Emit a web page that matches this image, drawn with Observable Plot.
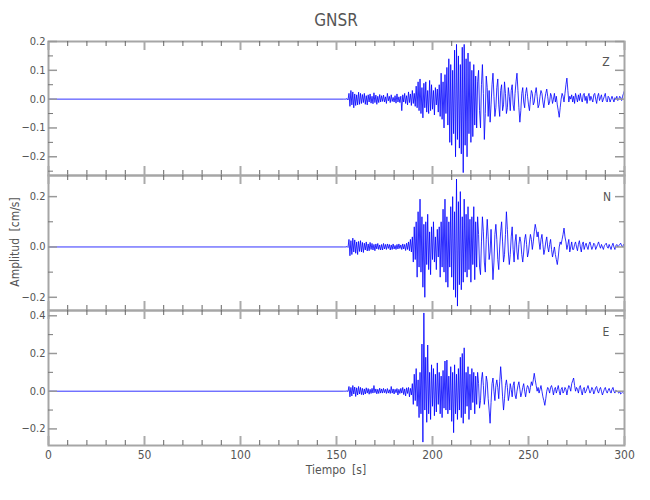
<!DOCTYPE html>
<html>
<head>
<meta charset="utf-8">
<script src="https://cdn.jsdelivr.net/npm/d3@7"></script>
<script src="https://cdn.jsdelivr.net/npm/@observablehq/plot@0.6"></script>
<style>
  body { margin: 0; background: #fff; }
  #chart { position: relative; width: 650px; height: 500px; background: #fff;
           font-family: "Liberation Sans Narrow", "DejaVu Sans Condensed", sans-serif; color: #555; }
  #chart svg { position: absolute; left: 0; }
  .lbl { position: absolute; white-space: nowrap; line-height: 1; }
</style>
</head>
<body>
<div id="chart"></div>
<script>
// ---- data (sampled every 0.5 s from 153.5 s; quiet trace before) ----
const title = "GNSR";
const channels = ["Z", "N", "E"];
const t0 = 153.5, dt = 0.5;
const xMajor = [0, 50, 100, 150, 200, 250, 300];
const xMinor = [10,20,30,40,60,70,80,90,110,120,130,140,160,170,180,190,210,220,230,240,260,270,280,290];

const zAmp = [
  0,0,0,0,0.002,-0.003,0.02,-0.025,0.03,-0.02,0.025,-0.03,0.018,-0.022,0.015,-0.02,0.024,-0.018,0.02,-0.015,
  0.016,-0.012,0.02,-0.018,0.012,-0.02,0.015,-0.01,0.018,-0.014,0.01,-0.016,0.022,-0.012,0.014,-0.018,0.01,-0.012,0.016,-0.01,
  0.012,-0.008,0.014,-0.01,0.008,-0.015,0.02,-0.006,0.01,-0.012,0.015,-0.008,0.006,-0.01,0.012,-0.014,0.018,-0.01,0.008,-0.012,
  0.01,-0.04,0.015,-0.01,0.02,-0.015,0.012,-0.02,0.025,-0.012,0.018,-0.022,0.03,-0.015,0.02,-0.025,0.045,-0.03,0.06,-0.04,
  0.07,-0.05,0.04,-0.065,0.055,-0.03,0.06,-0.045,0.03,-0.05,0.065,-0.04,0.05,-0.035,0.03,-0.055,0.04,-0.02,0.035,-0.045,
  0.05,-0.06,0.09,-0.07,0.06,-0.1,0.085,-0.05,0.11,-0.09,0.14,-0.15,0.12,-0.16,0.1,-0.12,0.17,-0.2,0.19,-0.14,
  0.15,-0.17,0.12,-0.19,0.18,-0.255,0.19,-0.16,0.14,-0.2,0.16,-0.12,0.13,-0.15,0.1,-0.13,0.12,-0.09,0.08,-0.1,
  0.06,0.1,-0.04,-0.1,0.05,0.12,0.02,-0.14,-0.05,0.08,0.04,-0.06,0.03,-0.08,-0.02,0.05,0.09,0.01,-0.06,-0.03,
  0.04,0.07,-0.02,-0.06,0.03,0.05,-0.04,-0.02,0.06,0.02,-0.05,-0.03,0.04,0.01,-0.04,0.03,0.05,-0.02,-0.04,0.02,
  0.06,0.09,0.03,-0.03,-0.08,-0.04,0.02,0.04,-0.01,-0.03,0.02,0.04,0.01,-0.02,-0.04,0,0.03,0.02,-0.02,-0.01,
  0.02,0.04,0.01,-0.03,-0.02,0.01,0.03,0.02,-0.01,-0.03,0,0.02,0.035,0.01,-0.02,-0.01,0.02,0.01,-0.015,0,
  0.02,-0.01,0.01,-0.02,-0.04,-0.063,-0.03,0,0.02,0.01,-0.01,0.02,0.05,0.073,0.03,-0.01,0.01,0,0.015,-0.01,
  0.01,-0.015,0.02,0.005,-0.01,0.015,-0.005,0.02,0,-0.01,0.015,0.02,-0.005,0.01,-0.015,0.01,0.02,-0.005,0.01,0,
  -0.01,0.015,0.02,0,-0.015,0.01,0.02,-0.005,0.005,0.015,-0.01,0,0.01,0.02,-0.005,-0.01,0.01,0.005,-0.01,0,
  0.01,0,-0.01,0.005,0,0.01,-0.005,0,0.01,0.005,-0.005,0.01,0.02,0.03
];

const nAmp = [
  0,0,0,0,0.002,-0.002,0.03,-0.035,0.025,-0.03,0.035,-0.02,0.028,-0.025,0.02,-0.03,0.022,-0.018,0.025,-0.02,
  0.018,-0.022,0.015,-0.012,0.02,-0.016,0.012,-0.015,0.018,-0.01,0.014,-0.012,0.01,-0.015,0.012,-0.008,0.014,-0.01,0.008,-0.012,
  0.01,-0.012,0.014,-0.008,0.01,-0.01,0.012,-0.006,0.01,-0.012,0.008,-0.01,0.012,-0.008,0.006,-0.01,0.01,-0.008,0.012,-0.006,
  0.008,-0.01,0.012,-0.008,0.01,-0.014,0.015,-0.01,0.02,-0.015,0.03,-0.02,0.04,-0.06,0.08,-0.05,0.1,-0.12,0.14,-0.08,
  0.19,-0.1,0.12,-0.16,0.09,-0.2,0.1,-0.07,0.13,-0.09,0.06,-0.11,0.08,-0.05,0.1,-0.06,0.04,-0.09,0.07,-0.04,
  0.08,-0.12,0.1,-0.08,0.15,-0.1,0.19,-0.14,0.12,-0.16,0.1,-0.08,0.16,-0.12,0.2,-0.17,0.14,-0.2,0.27,-0.235,
  0.18,-0.15,0.22,-0.17,0.12,-0.14,0.19,-0.1,0.13,-0.12,0.16,-0.09,0.11,-0.14,0.12,-0.07,0.16,-0.13,0.1,-0.08,
  0.12,0.05,-0.08,-0.11,0.02,0.12,0.06,-0.06,-0.1,0.03,0.11,0.04,-0.05,-0.02,0.07,-0.04,-0.13,-0.06,0.05,0.09,
  0.03,-0.05,-0.09,0,0.06,0.1,0.02,-0.06,-0.03,0.05,0.14,0.07,-0.02,-0.07,-0.03,0.04,0.08,-0.01,-0.06,0.02,
  0.05,-0.02,-0.05,0.01,0.04,0.02,-0.03,-0.06,-0.02,0.03,0.05,0.01,-0.04,-0.02,0.02,0.05,0.03,-0.01,0.02,0.06,
  0.09,0.07,0.04,0.06,0.02,-0.01,0.03,0.05,0.01,-0.03,-0.01,0.02,0.04,0,-0.02,0.01,0.03,-0.01,-0.04,-0.02,
  0,-0.03,-0.05,-0.07,-0.04,0,0.02,0.01,0.03,0.05,0.075,0.04,0.02,-0.01,0.01,0.03,-0.02,0,0.02,-0.01,
  -0.01,0.01,0.02,0,-0.015,0.01,0.025,0,-0.02,0.01,0.02,-0.01,0.005,0.015,0,-0.01,0.01,0.02,0.005,-0.01,
  0,0.015,0.01,-0.01,0,0.01,0.02,0.005,-0.005,0.01,0,-0.01,0.005,0.01,0.015,0,-0.005,0.01,0,-0.01,
  0.005,0.015,0,-0.01,0.005,0.01,0,0.005,0.01,0.015,0.005,0,0.01,0.005
];

const eAmp = [
  0,0,0,0,0.002,-0.002,0.025,-0.03,0.02,-0.025,0.03,-0.015,0.022,-0.028,0.018,-0.02,0.025,-0.015,0.02,-0.018,
  0.015,-0.02,0.012,-0.015,0.018,-0.01,0.014,-0.016,0.01,-0.012,0.015,-0.01,0.03,-0.008,0.012,-0.014,0.01,-0.012,0.016,-0.01,
  0.012,-0.01,0.015,-0.008,0.01,-0.012,0.014,-0.01,0.008,-0.012,0.025,-0.01,0.012,-0.015,0.01,-0.008,0.014,-0.02,0.01,-0.012,
  0.015,-0.01,0.02,-0.018,0.012,-0.025,0.018,-0.012,0.02,-0.03,0.015,-0.02,0.04,-0.07,0.09,-0.05,0.12,-0.08,0.06,-0.14,
  0.1,-0.12,0.25,-0.27,0.415,-0.1,0.18,-0.165,0.245,-0.12,0.1,-0.15,0.14,-0.08,0.12,-0.13,0.09,-0.11,0.15,-0.07,
  0.1,-0.12,0.08,-0.14,0.11,-0.09,0.16,-0.1,0.165,-0.12,0.08,-0.1,0.13,-0.16,0.1,-0.22,0.14,-0.12,0.09,-0.15,
  0.12,-0.1,0.18,-0.14,0.2,-0.17,0.23,-0.12,0.1,-0.08,0.13,-0.15,0.09,-0.1,0.12,-0.06,0.1,-0.12,0.08,-0.07,
  0.1,0.04,-0.09,-0.05,0.06,0.1,0.03,-0.07,-0.02,0.08,0.05,-0.04,-0.1,-0.17,-0.06,0.04,0.07,0,-0.05,0.03,
  0.06,0.02,-0.04,0.05,0.13,0.06,-0.03,-0.1,-0.04,0.03,0.06,0.02,-0.05,-0.02,0.04,0.01,-0.03,0.03,0.05,-0.02,
  -0.04,0,0.03,0.05,0.01,-0.03,-0.01,0.02,0.04,0,-0.03,0.01,0.03,0.02,-0.01,0.02,0.05,0.03,0.06,0.095,
  0.06,0.03,0,0.02,-0.01,0.01,0.03,0,-0.03,-0.05,-0.075,-0.04,0,0.02,0.01,-0.01,0.02,0.03,0.01,-0.02,
  0.01,0.02,-0.01,0.01,0.03,0,-0.02,0.01,0.02,-0.01,0,0.02,0.01,-0.02,0.01,0.03,0.02,0,0.04,0.055,
  0.07,0.03,0,0.02,0.01,-0.01,0.02,0.03,0,-0.02,0.01,0.02,-0.01,0,0.015,0.03,0.01,-0.01,0,0.02,
  0.01,-0.015,0,0.02,0.025,0,-0.01,0.01,0.02,0,-0.02,-0.005,0.01,0.02,0,-0.01,0.005,0.015,0,-0.01,
  0.01,0.02,0,-0.01,0.005,0,-0.005,-0.01,0,-0.015,-0.01,-0.005,-0.01,-0.005
];

const zDomain = [-0.265, 0.2],  zMajor = [-0.2, -0.1, 0, 0.1, 0.2], zMinor = [-0.25, -0.15, -0.05, 0.05, 0.15];
const nDomain = [-0.2525, 0.284], nMajor = [-0.2, 0, 0.2], nMinor = [-0.1, 0.1];
const eDomain = [-0.288, 0.428], eMajor = [-0.2, 0, 0.2, 0.4], eMinor = [-0.1, 0.1, 0.3];

// ---- drawing ----
const W = 650, ML = 48, MR = 26, PW = W - ML - MR;
const chart = document.getElementById("chart");

function series(amp) {
  return [{t: 0, v: 0}, ...amp.map((v, i) => ({t: t0 + i * dt, v}))];
}

function panel({amp, domain, major, minor, top, ph, mt, mb, xAxis}) {
  const data = series(amp);
  const marks = [
    Plot.line(data, {x: "t", y: "v", stroke: "#0000ff", strokeWidth: 0.9, strokeOpacity: 0.9}),
    Plot.frame({stroke: "#a6a6a6", strokeWidth: 2}),
    Plot.tickX(xMinor, {x: d => d, stroke: "#666", strokeWidth: 1, insetBottom: ph - 5}),
    Plot.tickX(xMinor, {x: d => d, stroke: "#666", strokeWidth: 1, insetTop: ph - 5}),
    Plot.tickX(xMajor, {x: d => d, stroke: "#aaa", strokeWidth: 2, insetBottom: ph - 9}),
    Plot.tickX(xMajor, {x: d => d, stroke: "#aaa", strokeWidth: 2, insetTop: ph - 9}),
    Plot.tickY(major, {y: d => d, stroke: "#999", strokeWidth: 1.5, insetRight: PW - 9}),
    Plot.tickY(major, {y: d => d, stroke: "#999", strokeWidth: 1.5, insetLeft: PW - 9}),
    Plot.tickY(minor, {y: d => d, stroke: "#777", strokeWidth: 1, insetRight: PW - 5}),
    Plot.tickY(minor, {y: d => d, stroke: "#777", strokeWidth: 1, insetLeft: PW - 5}),
    Plot.axisY(major, {tickSize: 0, tickPadding: 3, tickFormat: ".1f", fontSize: 11, label: null})
  ];
  if (xAxis) marks.push(Plot.axisX(xMajor, {tickSize: 0, tickPadding: 5, tickFormat: d => String(d), fontSize: 12, label: null}));
  const svg = Plot.plot({
    width: W, height: mt + ph + mb,
    marginLeft: ML, marginRight: MR, marginTop: mt, marginBottom: mb,
    style: {background: "transparent", overflow: "visible", color: "#555",
            fontFamily: '"Liberation Sans Narrow", "DejaVu Sans Condensed", sans-serif'},
    x: {domain: [0, 300], axis: xAxis ? undefined : null},
    y: {domain},
    marks
  });
  svg.style.top = (top - mt) + "px";
  chart.appendChild(svg);
}

panel({amp: zAmp, domain: zDomain, major: zMajor, minor: zMinor, top: 41, ph: 134, mt: 10, mb: 5, xAxis: false});
panel({amp: nAmp, domain: nDomain, major: nMajor, minor: nMinor, top: 175, ph: 135, mt: 10, mb: 5, xAxis: false});
panel({amp: eAmp, domain: eDomain, major: eMajor, minor: eMinor, top: 310, ph: 135, mt: 10, mb: 30, xAxis: true});

function label(text, x, y, size, opts = {}) {
  const d = document.createElement("div");
  d.className = "lbl";
  d.textContent = text;
  d.style.fontSize = size + "px";
  d.style.left = x + "px";
  d.style.top = y + "px";
  d.style.transform = "translate(-50%, -50%)" + (opts.rotate ? " rotate(-90deg)" : "");
  if (opts.ws) d.style.wordSpacing = opts.ws + "px";
  chart.appendChild(d);
}
label(title, 336, 20, 17);
label(channels[0], 606, 62, 12);
label(channels[1], 607, 197, 12);
label(channels[2], 606, 332, 12);
label("Amplitud [cm/s]", 15, 242, 12, {rotate: true, ws: 3});
label("Tiempo [s]", 336, 470, 12, {ws: 3});
</script>
</body>
</html>
